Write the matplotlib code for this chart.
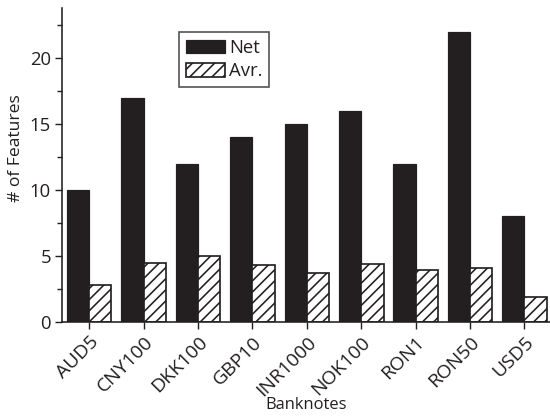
import numpy as np
import matplotlib
matplotlib.use("Agg")
import matplotlib.pyplot as plt
from matplotlib.ticker import MultipleLocator

notes = ["AUD5", "CNY100", "DKK100", "GBP10", "INR1000", "NOK100", "RON1", "RON50", "USD5"]
net = [10, 17, 12, 14, 15, 16, 12, 22, 8]
avr = [2.8, 4.5, 5.0, 4.3, 3.7, 4.4, 3.95, 4.1, 1.9]

DPI = 100
def px(v):
    # pixel size -> points at this dpi
    return v * 72.0 / DPI

ink = "#231f20"
plt.rcParams["font.family"] = ["Open Sans", "DejaVu Sans"]
plt.rcParams["hatch.linewidth"] = px(1.6)
plt.rcParams["hatch.color"] = ink

fig = plt.figure(figsize=(550 / DPI, 416 / DPI), dpi=DPI)
ax = fig.add_axes([0.1127, 0.226, 0.8873, 0.755])

x = np.arange(len(notes))
w = 0.41
ax.bar(x - w / 2, net, w, color=ink, edgecolor=ink, linewidth=px(1.2), label="Net")
ax.bar(x + w / 2, avr, w, color="white", edgecolor=ink, linewidth=px(1.7),
       hatch="///", label="Avr.")

ax.set_xlim(-0.5, 8.47)
ax.set_ylim(0, 23.8)
ax.yaxis.set_major_locator(MultipleLocator(5))
ax.yaxis.set_minor_locator(MultipleLocator(2.5))
ax.set_xticks(x)
ax.set_xticklabels(notes, rotation=45, ha="right", rotation_mode="anchor")

for s in ["top", "right"]:
    ax.spines[s].set_visible(False)
for s in ["left", "bottom"]:
    ax.spines[s].set_linewidth(px(1.6))
    ax.spines[s].set_color(ink)

ax.tick_params(axis="both", which="major", direction="out", length=px(7), width=px(1.4),
               color=ink, labelcolor=ink, pad=px(4))
ax.tick_params(axis="x", labelsize=px(19.4))
ax.tick_params(axis="y", labelsize=px(18.5))
ax.tick_params(axis="y", which="minor", direction="out", length=px(5), width=px(1.4), color=ink)

ax.set_ylabel("# of Features", fontsize=px(17.5), color=ink)
ax.yaxis.set_label_coords(-0.078, 0.554)
ax.set_xlabel("Banknotes", fontsize=px(16.5), color=ink, va="baseline")
ax.xaxis.set_label_coords(0.5, -0.277)

leg = ax.legend(loc="upper left", bbox_to_anchor=(0.24, 0.922), fontsize=px(18.5),
                frameon=True, fancybox=False, handlelength=2.15, handleheight=0.75,
                handletextpad=0.2, borderpad=0.35, labelspacing=0.3,
                borderaxespad=0)
leg.get_frame().set_edgecolor(ink)
leg.get_frame().set_linewidth(px(1.6))
for t in leg.get_texts():
    t.set_color(ink)

fig.savefig("out.png", dpi=DPI)
